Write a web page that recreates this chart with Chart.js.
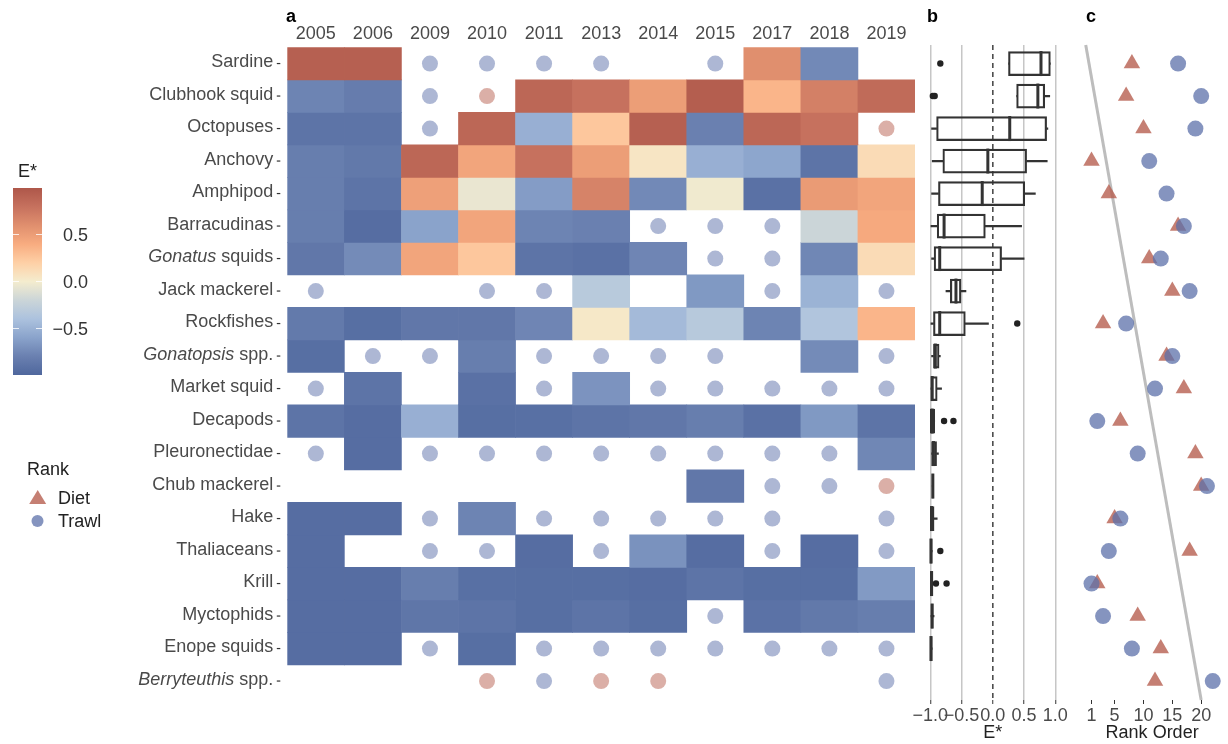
<!DOCTYPE html>
<html>
<head>
<meta charset="utf-8">
<script src="https://cdn.jsdelivr.net/npm/chart.js@4.4.1/dist/chart.umd.min.js"></script>
<style>
  body { margin: 0; background: #fff; width: 1228px; height: 744px; position: relative; overflow: hidden;
         font-family: 'Liberation Sans', Arial, Helvetica, sans-serif; }
  canvas { position: absolute; top: 0; }
  .txt { position: absolute; font-size: 18px; line-height: 18px; color: #222; white-space: nowrap; }
  .panel { position: absolute; top: 7px; font-size: 18px; line-height: 18px; font-weight: bold; color: #000; }
  .cb { position: absolute; width: 80px; text-align: right; font-size: 18px; line-height: 18px; color: #333; }
</style>
</head>
<body>
<canvas id="heat" width="930" height="744" style="left:0"></canvas>
<canvas id="box" width="185" height="744" style="left:890px"></canvas>
<canvas id="rank" width="153" height="744" style="left:1075px"></canvas>

<div class="panel" style="left:286px">a</div>
<div class="panel" style="left:927px">b</div>
<div class="panel" style="left:1086px">c</div>

<div class="txt" style="left:18px;top:162px">E*</div>
<div id="colorbar" style="position:absolute;left:13px;top:188px;width:29px;height:187px"></div>
<div class="cb" style="left:8px;top:226px">0.5</div>
<div class="cb" style="left:8px;top:273px">0.0</div>
<div class="cb" style="left:8px;top:320px">&minus;0.5</div>

<div class="txt" style="left:27px;top:460px">Rank</div>
<svg style="position:absolute;left:0;top:480px" width="60" height="60">
  <polygon points="29.2,24 46.2,24 37.7,10" fill="rgba(183,95,80,0.8)"/>
  <circle cx="37.5" cy="41" r="6" fill="rgba(92,112,170,0.75)"/>
</svg>
<div class="txt" style="left:58px;top:489px">Diet</div>
<div class="txt" style="left:58px;top:512px">Trawl</div>

<script>
const FONT = "'Liberation Sans', Arial, Helvetica, sans-serif";
Chart.defaults.font.family = FONT;
Chart.defaults.font.size = 18;
Chart.defaults.color = '#4a4a4a';
Chart.defaults.animation = false;

// ---- data ----
const years = ['2005', '2006', '2009', '2010', '2011', '2013', '2014', '2015', '2017', '2018', '2019'];
const species = ['Sardine', 'Clubhook squid', 'Octopuses', 'Anchovy', 'Amphipod', 'Barracudinas',
  'Gonatus squids', 'Jack mackerel', 'Rockfishes', 'Gonatopsis spp.', 'Market squid', 'Decapods',
  'Pleuronectidae', 'Chub mackerel', 'Hake', 'Thaliaceans', 'Krill', 'Myctophids', 'Enope squids',
  'Berryteuthis spp.'];
const italicNames = ['Gonatus', 'Gonatopsis', 'Berryteuthis'];

// E* per species (rows) and year (columns); null = no tile
const eStar = [
  [0.93, 0.93, null, null, null, null, null, null, 0.6, -0.75, null],
  [-0.78, -0.83, null, null, 0.88, 0.8, 0.5, 0.95, 0.35, 0.7, 0.85],
  [-0.9, -0.9, null, 0.88, -0.52, 0.25, 0.93, -0.8, 0.88, 0.8, null],
  [-0.82, -0.86, 0.88, 0.45, 0.8, 0.5, 0.05, -0.52, -0.58, -0.9, 0.12],
  [-0.82, -0.9, 0.48, -0.05, -0.64, 0.68, -0.75, -0.02, -0.92, 0.52, 0.45],
  [-0.82, -0.95, -0.6, 0.45, -0.78, -0.8, null, null, null, -0.2, 0.42],
  [-0.87, -0.74, 0.45, 0.25, -0.9, -0.92, -0.77, null, null, -0.76, 0.12],
  [null, null, null, null, null, -0.32, null, -0.66, null, -0.5, null],
  [-0.85, -0.94, -0.87, -0.87, -0.77, 0.03, -0.45, -0.33, -0.78, -0.37, 0.35],
  [-0.94, null, null, -0.82, null, null, null, null, null, -0.74, null],
  [null, -0.9, null, -0.92, null, -0.69, null, null, null, null, null],
  [-0.9, -0.95, -0.52, -0.94, -0.93, -0.9, -0.87, -0.82, -0.92, -0.66, -0.9],
  [null, -0.95, null, null, null, null, null, null, null, null, -0.76],
  [null, null, null, null, null, null, null, -0.87, null, null, null],
  [-0.95, -0.95, null, -0.78, null, null, null, null, null, null, null],
  [-0.95, null, null, null, -0.95, null, -0.7, -0.95, null, -0.95, null],
  [-0.95, -0.95, -0.82, -0.93, -0.94, -0.94, -0.95, -0.9, -0.94, -0.94, -0.65],
  [-0.95, -0.95, -0.88, -0.9, -0.94, -0.9, -0.94, null, -0.91, -0.86, -0.82],
  [-0.95, -0.95, null, -0.94, null, null, null, null, null, null, null],
  [null, null, null, null, null, null, null, null, null, null, null]
];

// prey found only in trawl (T) or only in diet (D)
const onlyIn = [
  ['', '', 'T', 'T', 'T', 'T', '', 'T', '', '', ''],
  ['', '', 'T', 'D', '', '', '', '', '', '', ''],
  ['', '', 'T', '', '', '', '', '', '', '', 'D'],
  ['', '', '', '', '', '', '', '', '', '', ''],
  ['', '', '', '', '', '', '', '', '', '', ''],
  ['', '', '', '', '', '', 'T', 'T', 'T', '', ''],
  ['', '', '', '', '', '', '', 'T', 'T', '', ''],
  ['T', '', '', 'T', 'T', '', '', '', 'T', '', 'T'],
  ['', '', '', '', '', '', '', '', '', '', ''],
  ['', 'T', 'T', '', 'T', 'T', 'T', 'T', '', '', 'T'],
  ['T', '', '', '', 'T', '', 'T', 'T', 'T', 'T', 'T'],
  ['', '', '', '', '', '', '', '', '', '', ''],
  ['T', '', 'T', 'T', 'T', 'T', 'T', 'T', 'T', 'T', ''],
  ['', '', '', '', '', '', '', '', 'T', 'T', 'D'],
  ['', '', 'T', '', 'T', 'T', 'T', 'T', 'T', '', 'T'],
  ['', '', 'T', 'T', '', 'T', '', '', 'T', '', 'T'],
  ['', '', '', '', '', '', '', '', '', '', ''],
  ['', '', '', '', '', '', '', 'T', '', '', ''],
  ['', '', 'T', '', 'T', 'T', 'T', 'T', 'T', 'T', 'T'],
  ['', '', '', 'D', 'T', 'D', 'D', '', '', '', 'T']
];

// boxplot summaries of E* (panel b)
const boxLow  = [0.25, 0.38, -0.98, -0.97, -0.98, -0.99, -0.98, -0.75, -0.99, -0.98, -0.99, -1.0, -0.98, -0.97, -1.0, -1.0, -1.0, -0.99, -1.0, null];
const boxQ1   = [0.25, 0.38, -0.9, -0.8, -0.87, -0.89, -0.94, -0.68, -0.95, -0.95, -0.99, -1.0, -0.98, -0.97, -1.0, -1.0, -1.0, -0.99, -1.0, null];
const boxMed  = [0.77, 0.72, 0.27, -0.08, -0.17, -0.78, -0.85, -0.59, -0.85, -0.92, -0.97, -0.97, -0.95, -0.96, -0.98, -0.99, -0.98, -0.97, -0.99, null];
const boxQ3   = [0.92, 0.83, 0.86, 0.54, 0.51, -0.12, 0.14, -0.51, -0.44, -0.86, -0.89, -0.93, -0.9, -0.95, -0.94, -0.97, -0.96, -0.96, -0.97, null];
const boxHigh = [0.92, 0.91, 0.88, 0.87, 0.68, 0.46, 0.5, -0.43, -0.07, -0.84, -0.82, -0.93, -0.87, -0.95, -0.89, -0.97, -0.96, -0.94, -0.97, null];
const boxOut  = [[-0.84], [-0.93, -0.96], [], [], [], [], [], [], [0.39], [], [], [-0.78, -0.63], [], [], [], [-0.84], [-0.91, -0.74], [], [], []];

// rank order (panel c)
const dietRank  = [8, 7, 10, 1, 4, 16, 11, 15, 3, 14, 17, 6, 19, 20, 5, 18, 2, 9, 13, 12];
const trawlRank = [16, 20, 19, 11, 14, 17, 13, 18, 7, 15, 12, 2, 9, 21, 6, 4, 1, 3, 8, 22];

// ---- colour scale ----
const colorStops = [
  [-1.0, '#4f679d'], [-0.8, '#6a80b0'], [-0.6, '#8aa3cb'], [-0.4, '#acc2de'], [-0.2, '#cbd5d8'],
  [0.0, '#f4ecce'], [0.2, '#fed0a6'], [0.4, '#f8ac80'], [0.6, '#e08f6e'], [0.8, '#c6715e'], [1.0, '#ae574a']
];
function hexRgb(h) { return [1, 3, 5].map(k => parseInt(h.slice(k, k + 2), 16)); }
function eColor(v) {
  for (let k = 1; k < colorStops.length; k++) {
    if (v <= colorStops[k][0] || k === colorStops.length - 1) {
      const [v0, c0] = colorStops[k - 1], [v1, c1] = colorStops[k];
      const t = Math.min(1, Math.max(0, (v - v0) / (v1 - v0)));
      const a = hexRgb(c0), b = hexRgb(c1);
      return 'rgb(' + a.map((x, n) => Math.round(x + (b[n] - x) * t)).join(',') + ')';
    }
  }
}
document.getElementById('colorbar').style.background =
  'linear-gradient(to top,' + colorStops.map(s => s[1] + ' ' + ((s[0] + 1) * 50) + '%').join(',') + ')';
// white ticks on colour bar
[0.5, 0, -0.5].forEach(v => {
  const y = 188 + (1 - v) / 2 * 187;
  [13, 36].forEach(x => {
    const d = document.createElement('div');
    d.style.cssText = 'position:absolute;left:' + x + 'px;top:' + (y - 0.5) + 'px;width:6px;height:1px;background:rgba(255,255,255,0.8)';
    document.body.appendChild(d);
  });
});

const DIET = 'rgba(183,95,80,0.8)', TRAWL = 'rgba(92,112,170,0.75)';

// ---- panel a: heatmap ----
const speciesLabels = {
  id: 'speciesLabels',
  afterDraw(chart) {
    const ctx = chart.ctx, yS = chart.scales.y, right = chart.chartArea.left - 14;
    ctx.save();
    ctx.fillStyle = '#4a4a4a';
    ctx.textBaseline = 'middle';
    ctx.textAlign = 'left';
    species.forEach((name, i) => {
      const y = yS.getPixelForValue(i + 1);
      const ital = italicNames.find(n => name.startsWith(n));
      const parts = ital ? [[ital, 'italic 18px ' + FONT], [name.slice(ital.length), '18px ' + FONT]]
                         : [[name, '18px ' + FONT]];
      let w = 0;
      parts.forEach(p => { ctx.font = p[1]; w += ctx.measureText(p[0]).width; });
      let x = right - w;
      parts.forEach(p => { ctx.font = p[1]; ctx.fillText(p[0], x, y - 1.5); x += ctx.measureText(p[0]).width; });
      ctx.strokeStyle = '#333';
      ctx.lineWidth = 1.2;
      ctx.beginPath();
      ctx.moveTo(right + 3.5, y);
      ctx.lineTo(right + 7, y);
      ctx.stroke();
    });
    ctx.restore();
  }
};

const tileSets = species.map((name, i) => ({
  type: 'bar',
  label: name,
  data: eStar[i].map(v => v === null ? null : [i + 0.5, i + 1.5]),
  backgroundColor: eStar[i].map(v => v === null ? 'rgba(0,0,0,0)' : eColor(v)),
  grouped: false,
  barPercentage: 1,
  categoryPercentage: 1,
  borderWidth: 0,
  order: 5
}));
const trawlDots = [], dietDots = [];
onlyIn.forEach((row, i) => row.forEach((c, j) => {
  if (c === 'T') trawlDots.push({ x: years[j], y: i + 1 });
  if (c === 'D') dietDots.push({ x: years[j], y: i + 1 });
}));

new Chart(document.getElementById('heat'), {
  type: 'bar',
  data: {
    labels: years,
    datasets: [
      ...tileSets,
      { type: 'scatter', data: trawlDots, pointRadius: 8, backgroundColor: 'rgba(92,112,170,0.5)', borderWidth: 0, order: 1 },
      { type: 'scatter', data: dietDots, pointRadius: 8, backgroundColor: 'rgba(183,95,80,0.5)', borderWidth: 0, order: 1 }
    ]
  },
  options: {
    responsive: false,
    layout: { padding: { left: 0, right: 15, top: 0, bottom: 46.7 } },
    plugins: { legend: { display: false }, tooltip: { enabled: false } },
    scales: {
      x: {
        type: 'category', position: 'top', offset: true,
        grid: { display: false, drawTicks: false }, border: { display: false },
        ticks: { color: '#4a4a4a', padding: 2, maxRotation: 0, autoSkip: false },
        afterFit: s => { s.height = 47.3; }
      },
      y: {
        type: 'linear', min: 0.5, max: 20.5, reverse: true, offset: false,
        afterBuildTicks: s => { s.ticks = species.map((_, i) => ({ value: i + 1 })); },
        ticks: { display: false }, grid: { display: false }, border: { display: false },
        afterFit: s => { s.width = 287.3; }
      }
    }
  },
  plugins: [speciesLabels]
});

// ---- panel b: boxplots ----
const yMinB = 0.5 - 2.3 / 32.5, yMaxB = 20.5 + 2.7 / 32.5;
const rows = species.map((_, i) => i).filter(i => boxQ1[i] !== null);
const hBar = { type: 'bar', indexAxis: 'y', grouped: false, borderSkipped: false };
new Chart(document.getElementById('box'), {
  type: 'scatter',
  data: {
    datasets: [
      { ...hBar, data: rows.map(i => ({ y: i + 1, x: [boxLow[i], boxQ1[i]] })), barThickness: 1.5, backgroundColor: '#333', borderWidth: 0, order: 4 },
      { ...hBar, data: rows.map(i => ({ y: i + 1, x: [boxQ3[i], boxHigh[i]] })), barThickness: 1.5, backgroundColor: '#333', borderWidth: 0, order: 4 },
      { ...hBar, data: rows.map(i => ({ y: i + 1, x: [boxQ1[i], boxQ3[i]] })), barThickness: 24, backgroundColor: 'rgba(0,0,0,0)', borderColor: '#333', borderWidth: 1.5, order: 3 },
      { type: 'scatter', data: rows.map(i => ({ x: boxMed[i], y: i + 1 })), pointStyle: 'line', rotation: 90, pointRadius: 12.5, borderColor: '#333', borderWidth: 3, clip: false, order: 2 },
      { type: 'scatter', data: boxOut.flatMap((o, i) => o.map(v => ({ x: v, y: i + 1 }))), pointRadius: 3.2, backgroundColor: '#222', borderWidth: 0, clip: false, order: 1 },
      { type: 'line', data: [{ x: 0, y: yMinB }, { x: 0, y: yMaxB }], borderColor: '#222', borderWidth: 1.3, borderDash: [5, 4], pointRadius: 0, order: 6 }
    ]
  },
  options: {
    responsive: false,
    layout: { padding: { left: 37.2, right: 16.5, top: 45, bottom: 0 } },
    plugins: { legend: { display: false }, tooltip: { enabled: false } },
    scales: {
      x: {
        type: 'linear', min: -1.05, max: 1.05, offset: false, beginAtZero: false,
        afterBuildTicks: s => { s.ticks = [-1, -0.5, 0, 0.5, 1].map(v => ({ value: v })); },
        ticks: { color: '#4a4a4a', padding: 1, maxRotation: 0, autoSkip: false,
                 callback: v => (v < 0 ? '\u2212' : '') + Math.abs(v).toFixed(1) },
        grid: { offset: false, color: c => c.tick && c.tick.value === 0 ? 'rgba(0,0,0,0)' : '#c6c6c6', lineWidth: 1.5,
                tickColor: '#333', tickLength: 4, tickWidth: 1 },
        border: { display: false },
        title: { display: true, text: 'E*', color: '#222', padding: { top: 0, bottom: 0 } },
        afterFit: s => { s.height = 44; }
      },
      y: { type: 'linear', display: false, min: yMinB, max: yMaxB, reverse: true, offset: false, grid: { offset: false } }
    }
  }
});

// ---- panel c: rank order ----
new Chart(document.getElementById('rank'), {
  type: 'scatter',
  data: {
    datasets: [
      { type: 'line', data: [{ x: 0, y: yMinB }, { x: 20, y: yMaxB }], borderColor: '#bdbdbd', borderWidth: 3, pointRadius: 0, clip: false, order: 3 },
      { label: 'Diet', data: dietRank.map((r, i) => ({ x: r, y: i + 1 })), pointStyle: 'triangle', pointRadius: 9.5, backgroundColor: DIET, borderWidth: 0, clip: false, order: 2 },
      { label: 'Trawl', data: trawlRank.map((r, i) => ({ x: r, y: i + 1 })), pointRadius: 8, backgroundColor: TRAWL, borderWidth: 0, clip: false, order: 1 }
    ]
  },
  options: {
    responsive: false,
    layout: { padding: { left: 10.74, right: 5.2, top: 45, bottom: 0 } },
    plugins: { legend: { display: false }, tooltip: { enabled: false } },
    scales: {
      x: {
        type: 'linear', min: 0, max: 23,
        afterBuildTicks: s => { s.ticks = [1, 5, 10, 15, 20].map(v => ({ value: v })); },
        ticks: { color: '#4a4a4a', padding: 1, maxRotation: 0, autoSkip: false },
        grid: { drawOnChartArea: false, tickColor: '#333', tickLength: 4 },
        border: { display: false },
        title: { display: true, text: 'Rank Order', color: '#222', padding: { top: 0, bottom: 0 } },
        afterFit: s => { s.height = 44; }
      },
      y: { type: 'linear', display: false, min: yMinB, max: yMaxB, reverse: true }
    }
  }
});
</script>
</body>
</html>
